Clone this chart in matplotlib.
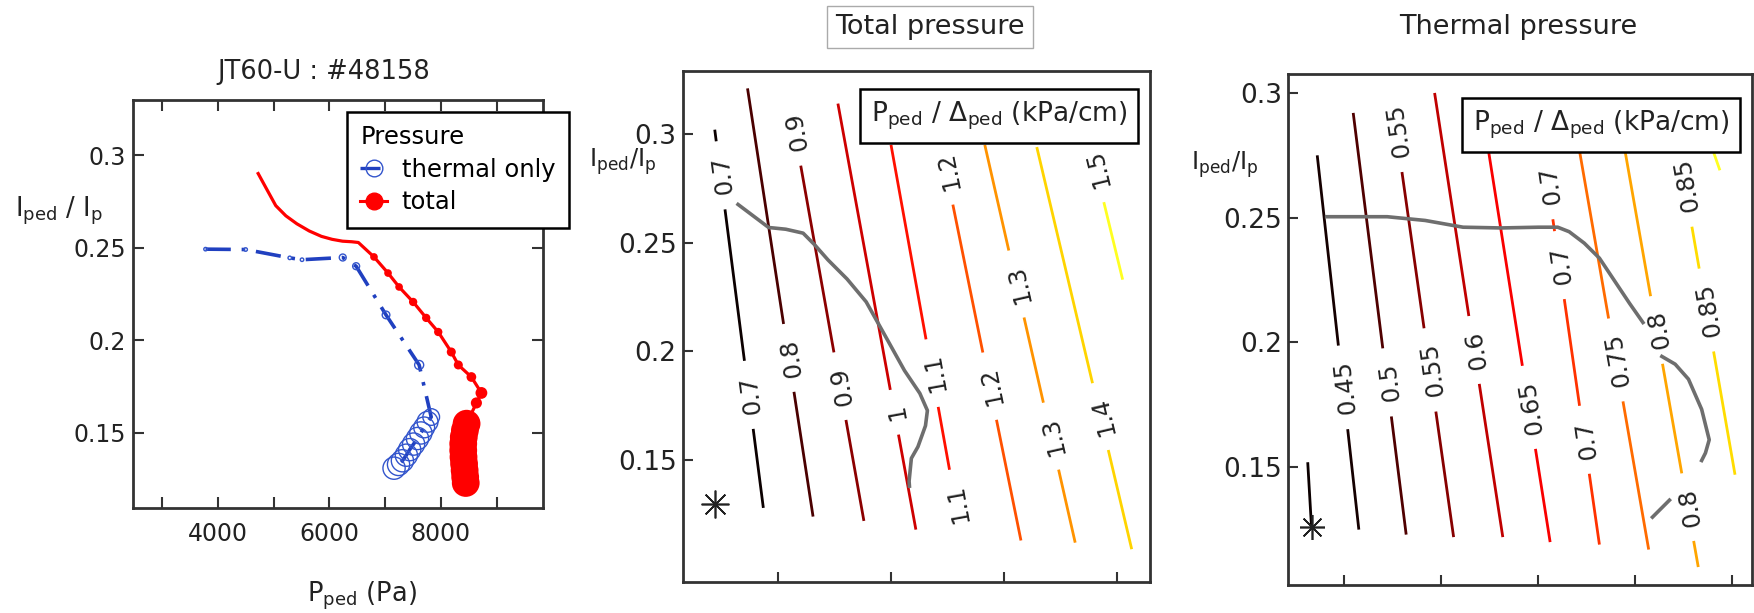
import matplotlib.pyplot as plt
import numpy as np
from matplotlib.lines import Line2D
from matplotlib.ticker import MultipleLocator, FormatStrFormatter

# JT60-U #48158: pedestal current fraction against pedestal pressure
total_p = [4724, 4860, 5039, 5220, 5417, 5640, 5858, 6050, 6236, 6400, 6520, 6800, 7052, 7250,
           7502, 7736, 7952, 8186, 8312, 8546, 8726, 8636, 8460, 8430, 8410, 8400, 8400, 8405,
           8415, 8425, 8435, 8445]
total_iped = [0.290, 0.2825, 0.2727, 0.2672, 0.2629, 0.2590, 0.2561, 0.2545, 0.2535, 0.2532,
              0.2528, 0.2450, 0.2363, 0.2288, 0.2207, 0.2121, 0.2045, 0.1937, 0.1867, 0.1802,
              0.1716, 0.1662, 0.155, 0.1514, 0.1478, 0.1442, 0.1406, 0.1370, 0.1334, 0.1298,
              0.1262, 0.1230]
thermal_p = [3780, 4500, 5290, 5510, 6240, 6480, 7016, 7610, 7826, 7760, 7700, 7640, 7580,
             7510, 7440, 7380, 7310, 7240, 7160]
thermal_iped = [0.2492, 0.2490, 0.2445, 0.2435, 0.2447, 0.2400, 0.2137, 0.1867, 0.1586, 0.1560,
                0.1530, 0.1500, 0.1470, 0.1440, 0.1410, 0.1380, 0.1350, 0.1330, 0.1310]

# P_ped / Delta_ped contours (kPa/cm), total pressure: line ends and label heights
tot_levels = [0.7, 0.8, 0.9, 1.0, 1.1, 1.2, 1.3, 1.4, 1.5]
tot_x_top = [0.44, 0.73, 1.10, 1.53, 2.00, 2.44, 2.83, 3.29, 3.76]
tot_y_top = [0.302, 0.321, 0.315, 0.314, 0.295, 0.295, 0.295, 0.294, 0.295]
tot_x_bot = [0.87, 1.31, 1.76, 2.22, 2.62, 3.15, 3.63, 4.13, 4.05]
tot_y_bot = [0.128, 0.124, 0.122, 0.118, 0.116, 0.113, 0.112, 0.109, 0.233]
tot_label_at = [[0.281, 0.180], [0.197], [0.301, 0.184], [0.172], [0.190, 0.130],
                [0.283, 0.184], [0.231, 0.161], [0.170], [0.284]]
tot_track_x = [0.646, 0.917, 1.069, 1.222, 1.323, 1.442, 1.611, 1.780, 1.950, 2.119,
               2.255, 2.322, 2.305, 2.238, 2.180, 2.160, 2.163]
tot_track_y = [0.2676, 0.2570, 0.2562, 0.2544, 0.2491, 0.2421, 0.2333, 0.2228, 0.2070, 0.1912,
               0.1807, 0.1728, 0.1658, 0.1561, 0.1508, 0.1403, 0.1380]
tot_start = (0.44, 0.130)

# same for thermal pressure only
th_levels = [0.4, 0.45, 0.5, 0.55, 0.6, 0.65, 0.7, 0.75, 0.8, 0.85, 0.9]
th_x_top = [0.626, 0.724, 1.095, 1.493, 1.934, 2.493, 3.055, 3.418, 3.887, 4.445, 4.812]
th_y_top = [0.152, 0.275, 0.292, 0.297, 0.300, 0.276, 0.276, 0.279, 0.279, 0.278, 0.276]
th_x_bot = [0.665, 1.153, 1.641, 2.130, 2.637, 3.125, 3.633, 4.141, 4.652, 5.031, 4.875]
th_y_bot = [0.126, 0.125, 0.123, 0.122, 0.122, 0.120, 0.119, 0.117, 0.110, 0.147, 0.269]
th_label_at = [[], [0.182], [0.184], [0.285, 0.189], [0.197], [0.174], [0.263, 0.231, 0.161],
               [0.193], [0.205, 0.134], [0.263, 0.213], []]
th_track_x = [0.821, 1.446, 1.837, 2.227, 2.618, 3.008, 3.203, 3.321, 3.477, 3.633, 3.789,
              3.945, 4.082, np.nan, 4.277, 4.414, 4.551, 4.687, 4.765, 4.726, 4.687,
              np.nan, 4.180, 4.355]
th_track_y = [0.2504, 0.2504, 0.2489, 0.2462, 0.2459, 0.2462, 0.2462, 0.2444, 0.2398, 0.2338,
              0.2247, 0.2156, 0.2080, np.nan, 0.1944, 0.1913, 0.1853, 0.1732, 0.1610, 0.1557,
              0.1527, np.nan, 0.1300, 0.1368]
th_start = (0.665, 0.126)

# marker diameters (pt) grow with time along each trajectory
total_ms = [0] * 11 + [5.5, 5.5, 5.5, 6, 6, 6, 6.5, 6.5, 7, 8.5, 8] + [20] * 10
thermal_ms = [2.5, 2.5, 2.5, 2.5, 5, 5, 5.5, 6.5, 12, 15, 15, 16, 16, 16, 16, 16, 16, 16, 16]

W, H = 1754, 613
ink = '#222222'
frame_col = '#333333'
blue = '#2040c0'
track_col = '#6e6e6e'


def at(x, y):
    # pixel position measured from the top-left corner -> figure fraction
    return x / W, 1 - y / H


def style_frame(ax):
    for s in ax.spines.values():
        s.set_linewidth(2.0)
        s.set_color(frame_col)


def draw_levels(ax, levels, x_top, y_top, x_bot, y_bot, label_at, lo, hi, fs=17.5):
    em = fs * 100 / 72
    for lev, x0, y0, x1, y1, labs in zip(levels, x_top, y_top, x_bot, y_bot, label_at):
        col = plt.cm.hot(float(np.clip((lev - lo) / (hi - lo) * 0.78, 0, 1)))
        p0, p1 = ax.transData.transform([(x0, y0), (x1, y1)])
        seg_len = np.hypot(*(p0 - p1))
        angle = np.degrees(np.arctan2(p0[1] - p1[1], p0[0] - p1[0]))
        txt = f'{lev:g}'
        width = (0.636 * sum(c.isdigit() for c in txt) + 0.318 * txt.count('.')) * em
        dt = (width / 2 + 15) / seg_len
        start = 0.0
        pieces = []
        for t in sorted((yl - y0) / (y1 - y0) for yl in labs):
            pieces.append((start, t - dt))
            start = t + dt
            ax.text(x0 + t * (x1 - x0), y0 + t * (y1 - y0), txt, rotation=angle,
                    rotation_mode='anchor', ha='center', va='center_baseline',
                    fontsize=fs, color=ink, zorder=4)
        pieces.append((start, 1.0))
        for a, b in pieces:
            if b > a:
                ax.plot([x0 + a * (x1 - x0), x0 + b * (x1 - x0)],
                        [y0 + a * (y1 - y0), y0 + b * (y1 - y0)],
                        color=col, lw=2.0, solid_capstyle='butt', zorder=2)


fig = plt.figure(figsize=(W / 100, H / 100), dpi=100)

# ---- left: trajectory in (P_ped, I_ped/I_p)
ax1 = fig.add_axes([133 / W, 1 - 508 / H, 410 / W, 408 / H])
ax1.plot(thermal_p, thermal_iped, color=blue, lw=2.6, dashes=(7, 3, 1, 3), zorder=2)
ax1.scatter(thermal_p, thermal_iped, s=np.square(thermal_ms), facecolors='none',
            edgecolors='#3355cc', linewidths=1.0, zorder=3)
ax1.plot(total_p, total_iped, color='red', lw=2.3, zorder=4)
ax1.scatter(total_p, total_iped, s=np.square(total_ms), color='red', lw=0, zorder=5)
ax1.set_xlim(2480, 9830)
ax1.set_ylim(0.1095, 0.3297)
ax1.xaxis.set_major_locator(MultipleLocator(2000))
ax1.xaxis.set_minor_locator(MultipleLocator(1000))
ax1.set_yticks([0.15, 0.2, 0.25, 0.3])
ax1.yaxis.set_major_formatter(FormatStrFormatter('%g'))
ax1.tick_params(which='both', direction='in', top=True, right=True, length=8, width=1.5,
                color=frame_col, labelcolor=ink, labelsize=17)
ax1.tick_params(axis='x', pad=10)
ax1.tick_params(axis='y', pad=5)
style_frame(ax1)

handles = [Line2D([], [], color=blue, lw=2.4, dashes=(6, 3, 1, 3), marker='o', ms=12,
                  mfc='none', mec='#3355cc', mew=1.0),
           Line2D([], [], color='red', lw=2.2, marker='o', ms=12)]
leg = ax1.legend(handles, ['thermal only', 'total'], title='Pressure', loc='upper left',
                 bbox_to_anchor=at(347, 112), bbox_transform=fig.transFigure,
                 fancybox=False, edgecolor='black', framealpha=1, fontsize=17.5,
                 title_fontsize=17.5, handlelength=1.1, handletextpad=0.6, borderpad=0.55,
                 labelspacing=0.35, borderaxespad=0, alignment='left')
leg.get_frame().set_linewidth(1.8)

fig.text(*at(324, 72), 'JT60-U : #48158', ha='center', va='center', fontsize=18.5, color=ink)
fig.text(*at(59, 211), r'$\mathregular{I_{ped}\ /\ I_p}$', ha='center', va='center',
         fontsize=18.5, color=ink)
fig.text(*at(362, 596), r'$\mathregular{P_{ped}}$ (Pa)', ha='center', va='center',
         fontsize=18.5, color=ink)

# ---- middle: total pressure gradient contours
ax2 = fig.add_axes([683 / W, 1 - 582 / H, 467 / W, 511 / H])
ax2.set_xlim(0.159, 4.292)
ax2.set_ylim(0.0939, 0.329)
draw_levels(ax2, tot_levels, tot_x_top, tot_y_top, tot_x_bot, tot_y_bot, tot_label_at, 0.7, 1.5)
ax2.plot(tot_track_x, tot_track_y, color=track_col, lw=2.6, zorder=3)
ax2.plot(*tot_start, marker=(8, 2, 0), ms=20, mew=1.2, color=ink, zorder=5)

# ---- right: thermal pressure gradient contours
ax3 = fig.add_axes([1288 / W, 1 - 585 / H, 464 / W, 511 / H])
ax3.set_xlim(0.4227, 5.206)
ax3.set_ylim(0.1028, 0.3076)
draw_levels(ax3, th_levels, th_x_top, th_y_top, th_x_bot, th_y_bot, th_label_at, 0.44, 0.9)
ax3.plot(th_track_x, th_track_y, color=track_col, lw=2.6, zorder=3)
ax3.plot(*th_start, marker=(8, 2, 0), ms=18, mew=1.2, color=ink, zorder=5)

for ax, nx in ((ax2, 4), (ax3, 5)):
    ax.set_xticks(range(1, nx + 1))
    ax.set_xticklabels([])
    ax.set_yticks([0.15, 0.2, 0.25, 0.3])
    ax.yaxis.set_major_formatter(FormatStrFormatter('%g'))
    ax.tick_params(direction='in', length=7, width=1.5, color=frame_col, labelcolor=ink,
                   labelsize=19, pad=4.5)
    style_frame(ax)

box_label = r'$\mathregular{P_{ped}\ /\ \Delta_{ped}}$ (kPa/cm)'
box_style = dict(boxstyle='square,pad=0.4', fc='white', ec='black', lw=1.8)
fig.text(*at(999, 116), box_label, ha='center', va='center', fontsize=19, color=ink,
         bbox=box_style, zorder=10)
fig.text(*at(1601, 125), box_label, ha='center', va='center', fontsize=19, color=ink,
         bbox=box_style, zorder=10)

fig.text(*at(623, 162), r'$\mathregular{I_{ped}/I_p}$', ha='center', va='center',
         fontsize=17.5, color=ink)
fig.text(*at(1225, 165), r'$\mathregular{I_{ped}/I_p}$', ha='center', va='center',
         fontsize=17.5, color=ink)

fig.text(*at(930, 27), 'Total pressure', ha='center', va='center', fontsize=19.5, color=ink,
         bbox=dict(boxstyle='square,pad=0.3', fc='white', ec='#aaaaaa', lw=1))
fig.text(*at(1518, 27), 'Thermal pressure', ha='center', va='center', fontsize=19.5, color=ink)

fig.savefig('out.png', dpi=100)
